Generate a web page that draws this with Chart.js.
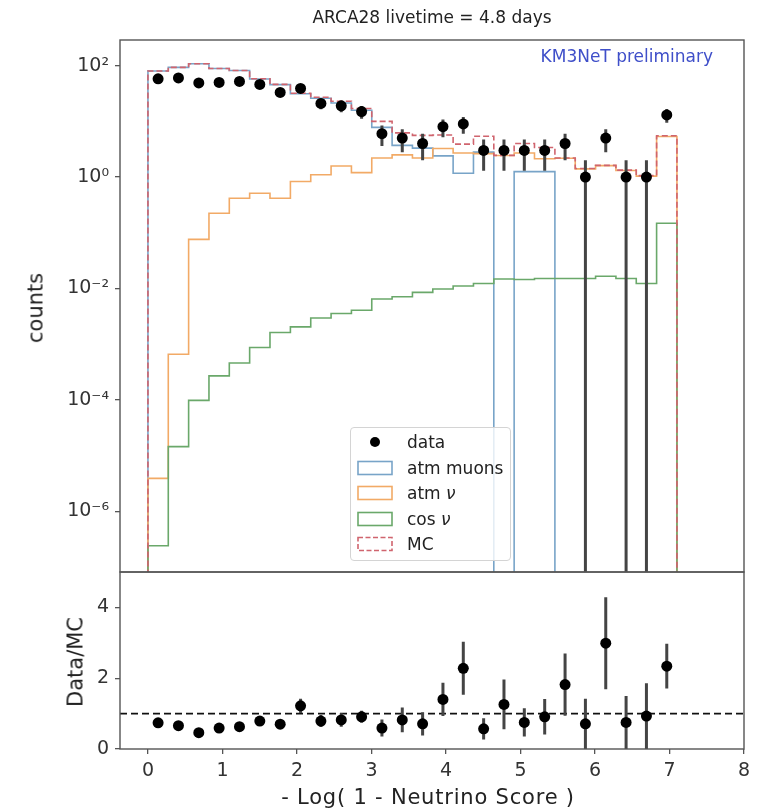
<!DOCTYPE html>
<html><head><meta charset="utf-8">
<script src="https://cdn.jsdelivr.net/npm/chart.js@4.4.1/dist/chart.umd.min.js"></script>
<style>
html,body{margin:0;padding:0;background:#fff;}
#wrap{position:relative;width:761px;height:809px;font-family:"DejaVu Sans",sans-serif;color:#222;overflow:hidden;background:#fff}
canvas{position:absolute;left:0}
.t{position:absolute;white-space:nowrap;line-height:1}
#title{left:432px;top:9px;font-size:17px;transform:translateX(-50%)}
#km3{right:48px;top:48px;font-size:17px;color:#3f4fc9}
#ylab1{left:36px;top:308px;font-size:21px;transform:translate(-50%,-50%) rotate(-90deg)}
#ylab2{left:76px;top:662px;font-size:21px;transform:translate(-50%,-50%) rotate(-90deg)}
#xlab{left:428px;top:797px;font-size:21px;letter-spacing:0.8px;transform:translate(-50%,-50%)}
#legend{position:absolute;left:350px;top:427px;width:161px;height:134px;border:1px solid #d4d4d4;border-radius:4px;background:rgba(255,255,255,0.8);box-sizing:border-box}
.row{position:absolute;left:0;height:22px;width:100%}
.row svg{position:absolute;left:6px;top:3px}
.row span{position:absolute;left:56px;top:2px;font-size:17px;line-height:18px}
</style></head><body>
<div id="wrap">
<canvas id="topc" width="761" height="573" style="top:0"></canvas>
<canvas id="botc" width="761" height="249" style="top:560px"></canvas>
<div class="t" id="title">ARCA28 livetime = 4.8 days</div>
<div class="t" id="km3">KM3NeT preliminary</div>
<div class="t" id="ylab1">counts</div>
<div class="t" id="ylab2">Data/MC</div>
<div class="t" id="xlab">- Log( 1 - Neutrino Score )</div>
<div id="legend"></div>
</div>
<script>
// ---- data ----
const binEdges = [0, 0.273, 0.546, 0.819, 1.092, 1.365, 1.638, 1.912, 2.185, 2.458, 2.731, 3.004, 3.277, 3.550,
  3.823, 4.096, 4.369, 4.642, 4.915, 5.188, 5.462, 5.735, 6.008, 6.281, 6.554, 6.827, 7.100];
const dataCounts = [58, 60, 49, 50, 52, 46, 33, 39, 21, 19, 15, 6, 5, 4, 8, 9, 3, 3, 3, 3, 4, 1, 5, 1, 1, 13];
const dataErr = [7.6, 7.7, 7.0, 7.1, 7.2, 6.8, 5.7, 6.2, 4.6, 4.4, 3.9, 2.4, 2.2, 2.0, 2.8, 3.0, 1.7, 1.7, 1.7, 1.7, 2.0, 1.0, 2.2, 1.0, 1.0, 3.6];
const atmMuons = [80, 93, 108, 88.8, 81.6, 57.5, 45.6, 31.2, 25.9, 21.4, 15.8, 7.8, 3.7, 3.3, 2.4, 1.17, 2.8, 0, 1.25, 1.25, 0, 0, 0, 0, 0, 0];
const atmNu = [3.9e-6, 6.6e-4, 0.076, 0.224, 0.417, 0.513, 0.417, 0.83, 1.10, 1.58, 1.20, 2.19, 2.5, 2.19, 3.25, 2.7, 2.63, 2.43, 2.7, 2.13, 2.18, 1.40, 1.60, 1.31, 1.04, 5.35];
const cosNu = [2.4e-7, 1.45e-5, 9.8e-5, 2.7e-4, 4.6e-4, 8.7e-4, 1.62e-3, 2.04e-3, 2.95e-3, 3.55e-3, 4.07e-3, 6.46e-3, 7.08e-3,
  8.5e-3, 9.8e-3, 1.11e-2, 1.23e-2, 1.48e-2, 1.45e-2, 1.51e-2, 1.51e-2, 1.51e-2, 1.66e-2, 1.51e-2, 1.23e-2, 0.148];
const mcTotal = [80, 93, 108, 89, 82, 58, 46, 32, 27, 23, 17, 10, 6.2, 5.6, 5.7, 3.9, 5.4, 2.45, 4.0, 3.4, 2.2, 1.42, 1.62, 1.33, 1.06, 5.5];
const ratio = [0.74, 0.66, 0.46, 0.59, 0.63, 0.79, 0.70, 1.22, 0.79, 0.82, 0.91, 0.59, 0.82, 0.71, 1.40, 2.28, 0.57, 1.26, 0.75, 0.91, 1.82, 0.71, 2.99, 0.75, 0.93, 2.34];
const ratioErr = [0.10, 0.09, 0.07, 0.08, 0.09, 0.12, 0.12, 0.20, 0.17, 0.19, 0.17, 0.24, 0.35, 0.33, 0.47, 0.75, 0.30, 0.70, 0.40, 0.50, 0.88, 0.71, 1.30, 0.75, 0.93, 0.63];
const xTicks = [0, 1, 2, 3, 4, 5, 6, 7, 8];
const logTickValues = [1e-6, 1e-4, 1e-2, 1, 100];
const logTickLabels = ['10\u207B\u2076', '10\u207B\u2074', '10\u207B\u00B2', '10\u2070', '10\u00B2'];
const ratioTicks = [0, 2, 4];
const legendLabels = ['data', 'atm muons', 'atm <i>\u03BD</i>', 'cos <i>\u03BD</i>', 'MC'];

// ---- style ----
const X_MIN = -0.375, X_MAX = 8.0;
const Y_MIN = Math.pow(10, -7.09), Y_MAX = Math.pow(10, 2.46);
const FLOOR = 1e-12;
const C_BLUE = '#78a4c8', C_ORANGE = '#f2aa66', C_GREEN = '#6aa86a', C_MC = '#d0646e';
const AX = '#555', TXT = '#333';
Chart.defaults.font.family = "'DejaVu Sans', sans-serif";
Chart.defaults.color = TXT;

const centers = binEdges.slice(0, -1).map((e, i) => (e + binEdges[i + 1]) / 2);
function stepOutline(vals) {
  const pts = [{x: binEdges[0], y: FLOOR}];
  vals.forEach((v, i) => { const y = v > 0 ? v : FLOOR; pts.push({x: binEdges[i], y}, {x: binEdges[i + 1], y}); });
  pts.push({x: binEdges[binEdges.length - 1], y: FLOOR});
  return pts;
}
function errSegs(vals, errs, floor) {
  const pts = [];
  vals.forEach((v, i) => {
    let lo = v - errs[i]; if (floor !== null && lo <= 0) lo = floor;
    pts.push({x: centers[i], y: lo}, {x: centers[i], y: v + errs[i]}, {x: centers[i], y: null});
  });
  return pts;
}
const frame = {id: 'frame', afterDraw(chart) {
  const a = chart.chartArea, ctx = chart.ctx;
  ctx.save(); ctx.strokeStyle = AX; ctx.lineWidth = 1.4;
  ctx.strokeRect(a.left, a.top, a.right - a.left, a.bottom - a.top); ctx.restore();
}};
const line = (data, color, width, order, extra) => Object.assign({data, borderColor: color, borderWidth: width,
  pointRadius: 0, fill: false, tension: 0, order, spanGaps: false}, extra || {});

// ---- top panel ----
new Chart(document.getElementById('topc'), {
  type: 'line',
  data: {datasets: [
    {data: centers.map((x, i) => ({x, y: dataCounts[i]})), showLine: false, pointRadius: 5.5, pointHoverRadius: 5.5,
     pointBackgroundColor: '#000', pointBorderWidth: 0, order: 0},
    line(errSegs(dataCounts, dataErr, FLOOR), '#444', 3, 1),
    line(stepOutline(mcTotal), C_MC, 1.6, 2, {borderDash: [6, 3]}),
    line(stepOutline(cosNu), C_GREEN, 1.6, 3),
    line(stepOutline(atmNu), C_ORANGE, 1.6, 4),
    line(stepOutline(atmMuons), C_BLUE, 1.6, 5)
  ]},
  options: {
    responsive: false, animation: false, events: [],
    layout: {autoPadding: false, padding: {left: 0, right: 17, top: 40, bottom: 1}},
    plugins: {legend: {display: false}, tooltip: {enabled: false}},
    scales: {
      x: {type: 'linear', min: X_MIN, max: X_MAX, display: false},
      y: {type: 'logarithmic', min: Y_MIN, max: Y_MAX,
          afterBuildTicks(s) { s.ticks = logTickValues.map(v => ({value: v})); },
          ticks: {font: {size: 19}, color: TXT, padding: 6,
                  callback: (v) => { const i = logTickValues.findIndex(t => Math.abs(Math.log10(t) - Math.log10(v)) < 1e-6); return i >= 0 ? logTickLabels[i] : ''; }},
          grid: {drawOnChartArea: false, drawTicks: true, tickLength: 5, color: AX, lineWidth: 1.3},
          border: {display: false},
          afterFit(s) { s.width = 120; s.paddingTop = 0; s.paddingBottom = 0; }}
    }
  },
  plugins: [frame]
});

// ---- bottom panel ----
new Chart(document.getElementById('botc'), {
  type: 'line',
  data: {datasets: [
    {data: centers.map((x, i) => ({x, y: ratio[i]})), showLine: false, pointRadius: 5.5, pointHoverRadius: 5.5,
     pointBackgroundColor: '#000', pointBorderWidth: 0, order: 0},
    line(errSegs(ratio, ratioErr, null), '#444', 3, 1),
    line([{x: X_MIN, y: 1}, {x: X_MAX, y: 1}], '#111', 1.8, 2, {borderDash: [7, 4]})
  ]},
  options: {
    responsive: false, animation: false, events: [],
    layout: {autoPadding: false, padding: {left: 0, right: 17, top: 12, bottom: 0}},
    plugins: {legend: {display: false}, tooltip: {enabled: false}},
    scales: {
      x: {type: 'linear', min: X_MIN, max: X_MAX,
          afterBuildTicks(s) { s.ticks = xTicks.map(v => ({value: v})); },
          ticks: {font: {size: 19}, color: TXT, padding: 6, maxRotation: 0},
          grid: {drawOnChartArea: false, drawTicks: true, tickLength: 5, color: AX, lineWidth: 1.3},
          border: {display: false},
          afterFit(s) { s.height = 60; }},
      y: {type: 'linear', min: 0, max: 5,
          afterBuildTicks(s) { s.ticks = ratioTicks.map(v => ({value: v})); },
          ticks: {font: {size: 19}, color: TXT, padding: 6},
          grid: {drawOnChartArea: false, drawTicks: true, tickLength: 5, color: AX, lineWidth: 1.3},
          border: {display: false},
          afterFit(s) { s.width = 120; s.paddingTop = 0; s.paddingBottom = 0; }}
    }
  },
  plugins: [frame]
});

// ---- legend (HTML) ----
const legendMarks = [
  '<svg width="36" height="16"><circle cx="18" cy="8" r="5" fill="#000"/></svg>',
  `<svg width="36" height="16"><rect x="1" y="1.5" width="34" height="13" fill="none" stroke="${C_BLUE}" stroke-width="1.6"/></svg>`,
  `<svg width="36" height="16"><rect x="1" y="1.5" width="34" height="13" fill="none" stroke="${C_ORANGE}" stroke-width="1.6"/></svg>`,
  `<svg width="36" height="16"><rect x="1" y="1.5" width="34" height="13" fill="none" stroke="${C_GREEN}" stroke-width="1.6"/></svg>`,
  `<svg width="36" height="16"><rect x="1" y="1.5" width="34" height="13" fill="none" stroke="${C_MC}" stroke-width="1.6" stroke-dasharray="5 2.5"/></svg>`
];
const leg = document.getElementById('legend');
legendLabels.forEach((lab, i) => {
  const r = document.createElement('div'); r.className = 'row'; r.style.top = (3 + i * 25.6) + 'px';
  r.innerHTML = legendMarks[i] + '<span>' + lab + '</span>';
  leg.appendChild(r);
});
</script>
</body></html>
